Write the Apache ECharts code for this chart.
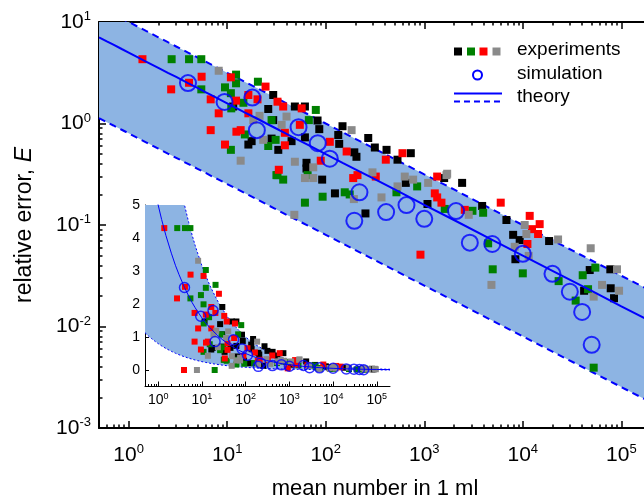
<!DOCTYPE html>
<html><head><meta charset="utf-8">
<script src="https://cdn.jsdelivr.net/npm/echarts@6/dist/echarts.min.js"></script>
<style>html,body{margin:0;padding:0;background:#fff}#c{width:644px;height:501px}</style>
</head><body><div id="c"></div>
<script>
// ---------- data ----------
const xMajor = [1, 10, 100, 1000, 10000, 100000];
const yMajor = [0.001, 0.01, 0.1, 1, 10];
const insetYTicks = [0, 1, 2, 3, 4, 5];

// theory samples: n, centre, upper and lower bound
const theoryN = [0.5,0.6,0.7,0.85,1,1.2,1.5,2,2.5,3,4,5,6,7,8,10,12,15,20,25,30,40,50,70,100,150,200,300,500,700,1000,2000,5000,10000,20000,50000,100000,200000];
const theoryMid = [7.07,6.45,5.98,5.42,5,4.56,4.08,3.54,3.16,2.89,2.5,2.24,2.04,1.89,1.77,1.58,1.44,1.29,1.12,1.0,0.913,0.791,0.707,0.598,0.5,0.408,0.354,0.289,0.224,0.189,0.158,0.112,0.0707,0.05,0.0354,0.0224,0.0158,0.0112];
const theoryHigh = [14.1,12.9,12.0,10.8,10,9.13,8.16,7.07,6.32,5.77,5.0,4.47,4.08,3.78,3.54,3.16,2.89,2.58,2.24,2.0,1.83,1.58,1.41,1.20,1.0,0.816,0.707,0.577,0.447,0.378,0.316,0.224,0.141,0.1,0.0707,0.0447,0.0316,0.0224];
const theoryLow = [1.13,1.03,0.956,0.868,0.8,0.730,0.653,0.566,0.506,0.462,0.4,0.358,0.327,0.302,0.283,0.253,0.231,0.207,0.179,0.16,0.146,0.126,0.113,0.0956,0.08,0.0653,0.0566,0.0462,0.0358,0.0302,0.0253,0.0179,0.0113,0.008,0.00566,0.00358,0.00253,0.00179];

const simulation = [[4,2.5],[9.4,1.63],[18,1.8],[20,0.86],[53,0.92],[83,0.64],[110,0.45],[195,0.11],[220,0.21],[410,0.134],[660,0.157],[1000,0.115],[2100,0.137],[2900,0.067],[4900,0.065],[10000,0.052],[20000,0.033],[30000,0.022],[40000,0.0139],[50000,0.0066]];

const expBlack = [[11.5,1.47],[29.3,1.91],[26.1,1.39],[17.7,0.67],[16.4,0.62],[28.2,0.71],[48.6,1.47],[61.5,1.47],[29.3,1.08],[82.6,1.07],[148,0.94],[86,0.88],[61.5,0.73],[45,0.67],[134,0.77],[137,0.63],[270,0.72],[33,0.55],[195,0.52],[205,0.47],[315,0.58],[414,0.55],[730,0.51],[535,0.44],[63.8,0.41],[63.8,0.36],[92,0.28],[649,0.26],[1592,0.29],[124,0.205],[253,0.13],[1078,0.161],[2422,0.26],[3866,0.154],[6820,0.112],[7980,0.080],[9300,0.071],[18490,0.0695],[8410,0.046],[47760,0.036],[77300,0.0366],[78000,0.0238],[41900,0.0225],[84300,0.019]];
const expGreen = [[2.73,4.3],[4.1,4.3],[5.46,4.3],[5.46,2.17],[12.3,3.03],[12.3,2.49],[9.5,2.27],[10.9,1.99],[14.6,1.60],[11.0,1.41],[20.5,2.58],[28.2,1.08],[15.1,0.78],[26.1,0.60],[10.9,0.55],[31.6,0.31],[79.3,1.36],[67.4,1.08],[31,0.69],[32.4,0.31],[37,0.28],[65.5,0.31],[847,0.24],[522,0.21],[156,0.21],[175,0.20],[93,0.19],[61.5,0.166],[1614,0.144],[3083,0.138],[3958,0.132],[4450,0.066],[4950,0.0366],[10000,0.0334],[54450,0.038],[40550,0.032],[23100,0.028],[45960,0.0233],[34400,0.018],[52400,0.00393],[19.6,0]];
const expRed = [[1.38,4.3],[2.7,2.17],[4.1,2.52],[5.5,2.89],[6.8,1.73],[10.9,2.85],[12.3,1.68],[16.4,1.91],[20.3,1.73],[24.5,2.31],[8.2,1.26],[16.4,1.26],[6.8,0.86],[12.4,0.83],[13.7,0.86],[9.5,0.62],[32.4,1.64],[37,1.47],[57,1.41],[54.6,0.97],[38.5,0.81],[38.5,0.61],[110,0.66],[163,0.53],[601,0.51],[407,0.44],[89,0.43],[33.4,0.35],[190,0.29],[210,0.31],[322,0.30],[1352,0.30],[1279,0.205],[1352,0.187],[5970,0.166],[1494,0.166],[2576,0.141],[11750,0.123],[14830,0.102],[12400,0.091],[14290,0.0815],[11140,0.065],[915,0.051],[3.9,0]];
const expGray = [[8.2,3.31],[21.3,1.19],[18.4,1.08],[23.2,0.69],[13.7,0.43],[40,1.17],[35.7,0.97],[183,0.86],[48.6,0.42],[74.7,0.37],[61.5,0.29],[74.7,0.29],[298,0.33],[634,0.30],[771,0.28],[1095,0.26],[1680,0.31],[535,0.24],[193,0.18],[368,0.187],[48,0.126],[1708,0.32],[2826,0.126],[10450,0.10],[10870,0.0815],[22800,0.072],[8280,0.061],[11480,0.0496],[4805,0.0257],[48860,0.059],[90400,0.0366],[63700,0.0257],[94800,0.0225],[52400,0.0197],[7.7,0]];

// ---------- build ----------
const FONT = 'Liberation Sans';
const BLUE = '#0000ff';
const BAND = '#8db4e3';
const COLORS = {black:'#000000', green:'#008000', red:'#ff0000', gray:'#8a8a8a'};

function minors(lo, hi, min, max){
  const a = [];
  for (let e = lo; e < hi; e++) for (let k = 2; k <= 9; k++) {
    const v = k * Math.pow(10, e);
    if (v > min * 1.0001 && v < max * 0.9999) a.push(v);
  }
  return a;
}
const X_MIN = 0.5, X_MAX = 200000;
const xMinor = minors(-1, 6, X_MIN, X_MAX);
const yMinor = minors(-3, 1, 0.001, 10);

function pow10Label(v){
  const e = Math.round(Math.log10(v));
  return '{b|10}{s|' + e + '}';
}
const pair = (xs, ys) => xs.map((x, i) => [x, ys[i]]);

const mainRich = {
  b: {fontFamily: FONT, fontSize: 21, color: '#000', lineHeight: 24},
  s: {fontFamily: FONT, fontSize: 13, color: '#000', verticalAlign: 'top', lineHeight: 12}
};
const insetRich = {
  b: {fontFamily: FONT, fontSize: 14, color: '#000', lineHeight: 16},
  s: {fontFamily: FONT, fontSize: 9, color: '#000', verticalAlign: 'top', lineHeight: 8}
};

// grid 0: main, grid 1: inset, grid 2: main (minor ticks), grid 3: inset (minor ticks)
function logX(grid, pos, major, labels, line){
  const main = grid === 0 || grid === 2;
  return {
    type: 'log', gridIndex: grid, position: pos, min: X_MIN, max: X_MAX,
    axisLine: {show: !!line, onZero: false, lineStyle: {color: '#000', width: main ? 2 : 1}},
    axisTick: {show: true, inside: true, length: major ? (main ? 7 : 5) : (main ? 3.5 : 2.5),
               customValues: major ? xMajor : xMinor, lineStyle: {color: '#000', width: main ? 1.5 : 1}},
    axisLabel: labels ? {show: true, customValues: xMajor, formatter: pow10Label,
               margin: main ? 15 : 6, rich: main ? mainRich : insetRich} : {show: false},
    splitLine: {show: false}, minorTick: {show: false}
  };
}

const xAxes = [
  Object.assign(logX(0, 'bottom', true, true, true), {name: 'mean number in 1 ml', nameLocation: 'middle', nameGap: 50,
    nameMoveOverlap: false, nameTextStyle: {fontFamily: FONT, fontSize: 22, color: '#000'}}),
  logX(0, 'top', true, false, true),
  logX(2, 'bottom', false, false, false),
  logX(2, 'top', false, false, false),
  logX(1, 'bottom', true, true, true),
  logX(3, 'bottom', false, false, false)
];

const yAxes = [
  {type: 'log', gridIndex: 0, position: 'left', min: 0.001, max: 10,
   axisLine: {show: true, onZero: false, lineStyle: {color: '#000', width: 2}},
   axisTick: {show: true, inside: true, length: 7, customValues: yMajor, lineStyle: {color: '#000', width: 1.5}},
   axisLabel: {show: true, customValues: yMajor, formatter: pow10Label, margin: 8, rich: mainRich},
   splitLine: {show: false},
   name: '{n|relative error, }{i|E}', nameLocation: 'middle', nameGap: 63, nameMoveOverlap: false,
   nameTextStyle: {rich: {n: {fontFamily: FONT, fontSize: 23, color: '#000'},
                          i: {fontFamily: FONT, fontSize: 23, fontStyle: 'italic', color: '#000'}}}},
  {type: 'log', gridIndex: 2, position: 'left', min: 0.001, max: 10,
   axisLine: {show: false},
   axisTick: {show: true, inside: true, length: 3.5, customValues: yMinor, lineStyle: {color: '#000', width: 1.5}},
   axisLabel: {show: false}, splitLine: {show: false}},
  {type: 'value', gridIndex: 1, position: 'left', min: -0.5, max: 5,
   axisLine: {show: true, onZero: false, lineStyle: {color: '#000', width: 1}},
   axisTick: {show: true, inside: true, length: 4, customValues: insetYTicks, lineStyle: {color: '#000', width: 1}},
   axisLabel: {show: true, customValues: insetYTicks, margin: 5, fontFamily: FONT, fontSize: 14, color: '#000'},
   splitLine: {show: false}},
  {type: 'value', gridIndex: 3, show: false, min: -0.5, max: 5}
];

function bandSeries(xi, yi){
  return {
    type: 'custom', xAxisIndex: xi, yAxisIndex: yi, data: [[1, 1]], silent: true, z: 1, clip: true,
    renderItem: function(params, api){
      const pts = [];
      for (let i = 0; i < theoryN.length; i++) pts.push(api.coord([theoryN[i], theoryHigh[i]]));
      for (let i = theoryN.length - 1; i >= 0; i--) pts.push(api.coord([theoryN[i], theoryLow[i]]));
      const cs = params.coordSys;
      return {type: 'polygon', shape: {points: pts}, style: {fill: BAND},
        clipPath: {type: 'rect', shape: {x: cs.x, y: cs.y, width: cs.width, height: cs.height}}};
    }
  };
}
function theorySeries(xi, yi, main){
  const w = main ? 2 : 1;
  return [
    bandSeries(xi, yi),
    {type: 'line', xAxisIndex: xi, yAxisIndex: yi, data: pair(theoryN, theoryHigh), symbol: 'none',
     lineStyle: {color: BLUE, width: w, type: main ? [7, 5] : [2, 2]}, z: 2},
    {type: 'line', xAxisIndex: xi, yAxisIndex: yi, data: pair(theoryN, theoryLow), symbol: 'none',
     lineStyle: {color: BLUE, width: w, type: main ? [7, 5] : [2, 2]}, z: 2}
  ];
}
function expSeries(xi, yi, main){
  const out = [];
  [['black', expBlack], ['green', expGreen], ['red', expRed], ['gray', expGray]].forEach(([c, d]) => {
    out.push({type: 'scatter', xAxisIndex: xi, yAxisIndex: yi, symbol: 'rect', symbolSize: main ? 8 : 6,
      data: main ? d.filter(p => p[1] > 0) : d, itemStyle: {color: COLORS[c], opacity: 1}, z: 3});
  });
  return out;
}
function midSeries(xi, yi, main){
  return {type: 'line', xAxisIndex: xi, yAxisIndex: yi, data: pair(theoryN, theoryMid), symbol: 'none',
    lineStyle: {color: BLUE, width: main ? 2 : 1}, z: 4};
}
function simSeries(xi, yi, main){
  return {type: 'scatter', xAxisIndex: xi, yAxisIndex: yi, symbol: 'circle', symbolSize: main ? 16 : 10,
    data: simulation, itemStyle: {color: 'rgba(0,0,0,0)', borderColor: BLUE, borderWidth: main ? 2 : 1.5}, z: 5};
}

const series = [].concat(
  theorySeries(0, 0, true), expSeries(0, 0, true), [midSeries(0, 0, true), simSeries(0, 0, true)],
  theorySeries(4, 2, false), expSeries(4, 2, false), [midSeries(4, 2, false), simSeries(4, 2, false)]
);

const graphic = [
  {type: 'rect', shape: {x: 454, y: 47.5, width: 8, height: 8}, style: {fill: COLORS.black}, z: 10},
  {type: 'rect', shape: {x: 467, y: 47.5, width: 8, height: 8}, style: {fill: COLORS.green}, z: 10},
  {type: 'rect', shape: {x: 479.5, y: 47.5, width: 8, height: 8}, style: {fill: COLORS.red}, z: 10},
  {type: 'rect', shape: {x: 492.5, y: 47.5, width: 8, height: 8}, style: {fill: COLORS.gray}, z: 10},
  {type: 'circle', shape: {cx: 477.5, cy: 75, r: 4.5}, style: {fill: 'none', stroke: BLUE, lineWidth: 2}, z: 10},
  {type: 'line', shape: {x1: 454, y1: 93.5, x2: 502, y2: 93.5}, style: {stroke: BLUE, lineWidth: 2}, z: 10},
  {type: 'line', shape: {x1: 454, y1: 101.5, x2: 502, y2: 101.5}, style: {stroke: BLUE, lineWidth: 2, lineDash: [6, 4]}, z: 10},
  {type: 'text', x: 517, y: 50, style: {text: 'experiments', fontFamily: FONT, fontSize: 19, fill: '#000', verticalAlign: 'middle'}, z: 10},
  {type: 'text', x: 517, y: 74, style: {text: 'simulation', fontFamily: FONT, fontSize: 19, fill: '#000', verticalAlign: 'middle'}, z: 10},
  {type: 'text', x: 517, y: 97, style: {text: 'theory', fontFamily: FONT, fontSize: 19, fill: '#000', verticalAlign: 'middle'}, z: 10}
];

const gridBase = {containLabel: false, outerBoundsMode: 'none'};
const chart = echarts.init(document.getElementById('c'), null, {renderer: 'canvas'});
chart.setOption({
  animation: false,
  backgroundColor: '#fff',
  grid: [
    Object.assign({left: 99, top: 22, width: 552, height: 406}, gridBase),
    Object.assign({left: 145, top: 205, width: 245, height: 181.5}, gridBase),
    Object.assign({left: 99, top: 22, width: 552, height: 406}, gridBase),
    Object.assign({left: 145, top: 205, width: 245, height: 181.5}, gridBase)
  ],
  xAxis: xAxes,
  yAxis: yAxes,
  series: series,
  graphic: graphic
});
</script></body></html>
